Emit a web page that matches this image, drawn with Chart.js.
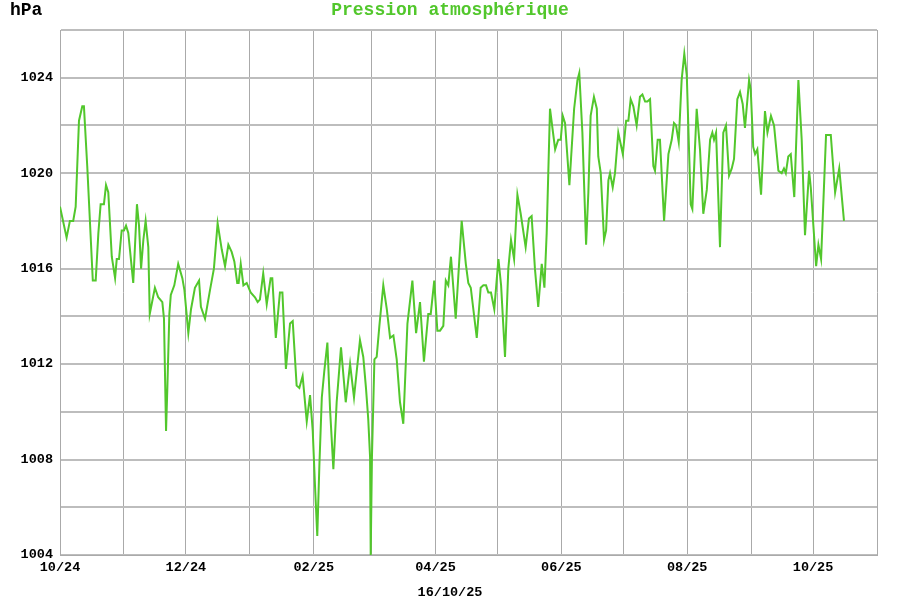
<!DOCTYPE html>
<html>
<head>
<meta charset="utf-8">
<script src="https://cdn.jsdelivr.net/npm/chart.js"></script>
<style>
  body { margin: 0; background: #fff; }
  #wrap { position: relative; width: 900px; height: 600px; }
  .lbl { position: absolute; font-family: "Liberation Mono", "Courier New", monospace; font-weight: bold; white-space: nowrap; }
</style>
</head>
<body>
<div id="wrap">
  <canvas id="pressure-chart" width="900" height="600"></canvas>
  <div class="lbl" style="left: 10px; top: 0px; font-size: 18px; color: #000;">hPa</div>
  <div class="lbl" style="left: 0; width: 900px; top: 0px; text-align: center; font-size: 18px; color: #52c72c;">Pression atmosphérique</div>
  <div class="lbl" style="left: 0; width: 900px; top: 585px; text-align: center; font-size: 13.5px; color: #000;">16/10/25</div>
</div>
<script>
// days since 1 Oct 2024
const days = [
  0, 3.2, 4.8, 6.4, 7.6, 9.2, 10.8, 11.6, 13.2, 15.9, 17.3, 18.6, 19.7, 21.3, 22.3, 23.4,
  25.1, 26.7, 27.5, 28.6, 29.9, 31.0, 32.0, 33.1, 35.5, 37.3, 38.3, 39.3, 40.4, 41.5, 42.8,
  43.5, 46.0, 47.6, 49.6, 50.4, 51.4, 52.0, 53.0, 53.7, 55.4, 57.3, 59.3, 60.3, 62.2, 63.5,
  65.4, 67.4, 68.3, 70.3, 72.7, 74.6, 76.4, 78.4, 80.0, 81.6, 83.2, 84.5, 85.9, 86.6, 87.6,
  88.9, 90.5, 92.4, 94.5, 95.8, 96.9, 98.5, 100.2, 102.1, 102.9, 104.6, 106.6, 107.8, 109.5,
  111.5, 112.8, 114.7, 116.0, 117.6, 119.6, 121.2, 122.5, 123.6, 124.7, 125.7, 126.9, 128.1,
  129.6, 130.9, 132.5, 134.1, 136.2, 138.5, 140.6, 142.5, 145.4, 147.0, 148.3, 149.4, 150.3,
  150.6, 151.2, 152.4, 153.5, 154.8, 156.7, 158.4, 160.0, 161.6, 163.2, 164.8, 166.4, 168.4,
  170.8, 172.6, 174.5, 176.4, 178.5, 179.7, 181.4, 182.9, 184.2, 185.8, 187.0, 188.2, 189.5,
  191.8, 194.7, 196.7, 197.9, 199.1, 202.0, 203.9, 205.2, 206.5, 207.6, 208.9, 210.5, 212.5,
  213.8, 215.7, 217.3, 218.6, 220.1, 221.7, 223.3, 225.7, 227.3, 228.6, 230.2, 231.8, 233.5,
  234.8, 235.9, 237.5, 240.0, 241.5, 242.7, 243.7, 244.8, 246.9, 249.2, 250.8, 251.7, 253.2,
  255.0, 256.1, 257.2, 258.8, 260.2, 260.9, 262.1, 263.7, 264.7, 265.8, 266.6, 267.9, 269.0,
  270.6, 272.8, 274.4, 275.5, 276.6, 277.9, 279.5, 281.1, 282.3, 283.6, 284.7, 286.0, 287.6,
  288.4, 289.7, 290.8, 292.8, 294.9, 296.5, 297.6, 298.6, 299.9, 301.3, 302.6, 303.8, 305.7,
  306.5, 308.6, 310.2, 311.8, 313.5, 315.1, 316.2, 317.0, 318.0, 319.9, 321.5, 322.8, 324.3,
  325.6, 326.7, 328.3, 329.6, 330.9, 332.0, 334.0, 334.8, 336.0, 336.9, 338.0, 339.8, 341.7,
  342.9, 344.6, 346.1, 348.2, 349.8, 350.9, 351.8, 353.0, 354.2, 355.9, 357.9, 359.5, 361.1,
  363.1, 363.9, 366.5, 367.6, 368.9, 371.3, 373.6, 375.7, 377.7, 380.0
];

const pressure = [
  1018.6, 1017.3, 1018.0, 1018.0, 1018.6, 1022.2, 1022.8, 1022.8, 1020.3, 1015.5, 1015.5, 1017.5, 1018.7, 1018.7, 1019.5, 1019.2,
  1016.5, 1015.6, 1016.4, 1016.4, 1017.6, 1017.6, 1017.8, 1017.5, 1015.4, 1018.7, 1017.8, 1016.0, 1017.2, 1018.0, 1016.9,
  1014.1, 1015.2, 1014.8, 1014.6, 1013.9, 1009.2, 1010.9, 1014.1, 1014.9, 1015.3, 1016.2, 1015.6, 1015.1, 1013.3, 1014.3,
  1015.2, 1015.5, 1014.4, 1013.9, 1015.1, 1016.0, 1017.9, 1016.8, 1016.1, 1017.0, 1016.7, 1016.3, 1015.4, 1015.4, 1016.2,
  1015.3, 1015.4, 1015.0, 1014.8, 1014.6, 1014.7, 1015.8, 1014.5, 1015.6, 1015.6, 1013.1, 1015.0, 1015.0, 1011.8,
  1013.7, 1013.8, 1011.1, 1011.0, 1011.5, 1009.6, 1010.7, 1009.2, 1006.9, 1004.8, 1007.7, 1010.6, 1011.7,
  1012.9, 1010.1, 1007.6, 1010.4, 1012.7, 1010.4, 1012.0, 1010.6, 1013.0, 1012.3, 1011.0, 1009.7, 1008.1,
  1004.0, 1008.1, 1012.2, 1012.3, 1013.6, 1015.3, 1014.3, 1013.1, 1013.2, 1012.2, 1010.4, 1009.5, 1013.7,
  1015.5, 1013.3, 1014.6, 1012.1, 1014.1, 1014.1, 1015.5, 1013.4, 1013.4, 1013.6, 1015.5, 1015.3, 1016.5,
  1013.9, 1018.0, 1016.2, 1015.4, 1015.2, 1013.1, 1015.2, 1015.3, 1015.3, 1015.0, 1015.0, 1014.3, 1016.4,
  1015.3, 1012.3, 1016.0, 1017.2, 1016.4, 1019.1, 1018.3, 1016.9, 1018.1, 1018.2, 1016.0, 1014.4, 1016.2,
  1015.2, 1017.5, 1022.7, 1021.0, 1021.4, 1021.4, 1022.4, 1022.1, 1019.5, 1022.7, 1023.9, 1024.2, 1021.7,
  1017.0, 1019.2, 1022.4, 1023.2, 1022.7, 1020.7, 1020.0, 1017.2, 1017.6, 1019.7, 1020.0, 1019.4, 1020.0,
  1021.7, 1020.8, 1022.2, 1022.2, 1023.1, 1022.8, 1022.0, 1023.2, 1023.3, 1023.0, 1023.0, 1023.1, 1020.3,
  1020.1, 1021.4, 1021.4, 1018.0, 1020.8, 1021.4, 1022.1, 1022.0, 1021.3, 1023.9, 1025.0, 1024.1, 1018.7,
  1018.5, 1022.7, 1021.0, 1018.3, 1019.3, 1021.4, 1021.7, 1021.4, 1021.7, 1016.9, 1021.7, 1022.0, 1019.9,
  1020.2, 1020.6, 1023.1, 1023.4, 1022.9, 1021.9, 1023.9, 1023.5, 1021.1, 1020.8, 1021.0, 1019.1, 1022.6,
  1021.7, 1022.4, 1022.0, 1020.1, 1020.0, 1020.2, 1020.0, 1020.7, 1020.8, 1019.0, 1023.9, 1021.4, 1017.4,
  1020.1, 1019.4, 1016.1, 1017.0, 1016.4, 1021.6, 1021.6, 1019.2, 1020.2, 1018.0
];

// first day of each month, Oct 2024 .. Nov 2025
const monthStarts = [0, 31, 61, 92, 123, 151, 182, 212, 243, 273, 304, 335, 365, 396];
const monthLabels = ['10/24', '', '12/24', '', '02/25', '', '04/25', '', '06/25', '', '08/25', '', '10/25', ''];

const yMin = 1004;
const yMax = 1026;
const yLabels = [1004, 1008, 1012, 1016, 1020, 1024];

const tickFont = { family: '"Liberation Mono", "Courier New", monospace', size: 13.5, weight: 'bold' };

new Chart(document.getElementById('pressure-chart'), {
    type: 'line',
    data: {
        datasets: [{
            data: days.map((d, i) => ({ x: d, y: pressure[i] })),
            borderColor: '#52c72c',
            borderWidth: 2,
            pointRadius: 0,
            tension: 0,
            fill: false
        }]
    },
    options: {
        responsive: false,
        animation: false,
        layout: { padding: { left: 0, top: 30, right: 23, bottom: 0 } },
        plugins: { legend: { display: false }, title: { display: false }, tooltip: { enabled: false } },
        scales: {
            x: {
                type: 'linear',
                min: 0,
                max: 396,
                afterBuildTicks: (scale) => { scale.ticks = monthStarts.map(v => ({ value: v })); },
                afterFit: (scale) => { scale.height = 45; },
                grid: { color: '#aaaaaa', lineWidth: 1, drawTicks: false },
                border: { color: '#aaaaaa', width: 1 },
                ticks: {
                    autoSkip: false,
                    maxRotation: 0,
                    padding: 4,
                    color: '#000',
                    font: tickFont,
                    callback: (v, i) => monthLabels[i]
                }
            },
            y: {
                min: yMin,
                max: yMax,
                afterFit: (scale) => { scale.width = 60; },
                grid: { color: '#bdbdbd', lineWidth: 2, drawTicks: false },
                border: { color: '#aaaaaa', width: 1 },
                ticks: {
                    stepSize: 2,
                    padding: 7,
                    color: '#000',
                    font: tickFont,
                    callback: (v) => yLabels.includes(v) ? String(v) : ''
                }
            }
        }
    }
});
</script>
</body>
</html>
